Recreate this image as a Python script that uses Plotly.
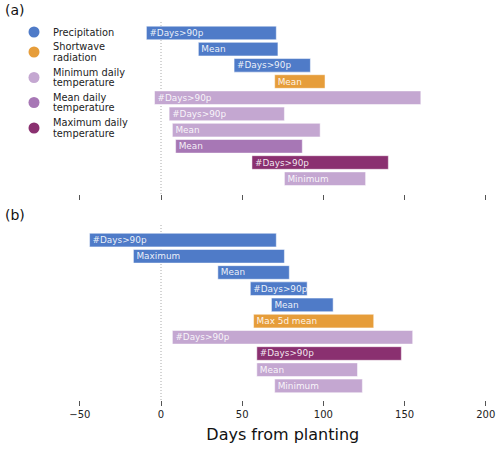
import plotly.graph_objects as go

# ---- data ----
var_keys = ["pr", "rsds", "tmin", "tmean", "tmax"]
var_lines = [["Precipitation"], ["Shortwave", "radiation"],
             ["Minimum daily", "temperature"], ["Mean daily", "temperature"],
             ["Maximum daily", "temperature"]]
var_colors = {"pr": "#4F7BC8", "rsds": "#E69D3A", "tmin": "#C4A7D1",
              "tmean": "#A777B5", "tmax": "#8A3070"}

a_labels = ["#Days>90p", "Mean", "#Days>90p", "Mean", "#Days>90p",
            "#Days>90p", "Mean", "Mean", "#Days>90p", "Minimum"]
a_start = [-9, 23, 45, 70, -4, 5, 7, 9, 56, 76]
a_end = [71, 72, 92, 101, 160, 76, 98, 87, 140, 126]
a_var = ["pr", "pr", "pr", "rsds", "tmin", "tmin", "tmin", "tmean", "tmax", "tmin"]

b_labels = ["#Days>90p", "Maximum", "Mean", "#Days>90p", "Mean",
            "Max 5d mean", "#Days>90p", "#Days>90p", "Mean", "Minimum"]
b_start = [-44, -17, 35, 55, 68, 57, 7, 59, 59, 70]
b_end = [71, 76, 79, 90, 106, 131, 155, 148, 121, 124]
b_var = ["pr", "pr", "pr", "pr", "pr", "rsds", "tmin", "tmax", "tmin", "tmin"]

x_ticks = [-50, 0, 50, 100, 150, 200]

# ---- layout constants ----
W, H = 500, 450
FONT = "DejaVu Sans"
LEG_CIRCLE_X = 34
LEG_TEXT_X = 51
LEG_ENTRY_Y = [32, 52, 77.5, 102.5, 128]
LEG_LINE_GAP = 10.8

fig = go.Figure()

def add_panel(labels, start, end, var, xaxis, yaxis):
    fig.add_trace(go.Bar(
        orientation="h",
        y=list(range(len(labels))),
        x=[e - s for s, e in zip(start, end)],
        base=start,
        text=labels,
        textposition="inside",
        insidetextanchor="start",
        textangle=0,
        constraintext="none",
        textfont=dict(family=FONT, size=8.9, color="rgba(255,255,255,0.9)"),
        marker=dict(color=[var_colors[v] for v in var],
                    line=dict(color="rgba(255,255,255,0.5)", width=1)),
        width=0.84,
        showlegend=False,
        hoverinfo="skip",
        xaxis=xaxis, yaxis=yaxis,
    ))

add_panel(a_labels, a_start, a_end, a_var, "x", "y")
add_panel(b_labels, b_start, b_end, b_var, "x2", "y2")

# legend circles drawn on a pixel-overlay axis
fig.add_trace(go.Scatter(
    x=[LEG_CIRCLE_X] * len(var_keys), y=LEG_ENTRY_Y, mode="markers",
    marker=dict(color=[var_colors[k] for k in var_keys], size=11, symbol="circle",
                line=dict(width=0)),
    showlegend=False, hoverinfo="skip", xaxis="x3", yaxis="y3", cliponaxis=False,
))

def px_x(p):
    return p / W

def px_y(p):
    return 1 - p / H

for lines, yc in zip(var_lines, LEG_ENTRY_Y):
    n = len(lines)
    for i, line in enumerate(lines):
        yy = yc + (i - (n - 1) / 2) * LEG_LINE_GAP
        fig.add_annotation(text=line, x=px_x(LEG_TEXT_X), y=px_y(yy),
                           xref="paper", yref="paper", xanchor="left",
                           yanchor="middle", showarrow=False,
                           font=dict(family=FONT, size=9.8, color="#222222"))

xdom = [px_x(78.2), px_x(487.4)]
xr = [-51, 201]

axis_common = dict(range=xr, domain=xdom, tickvals=x_ticks, ticks="outside",
                   ticklen=5, tickwidth=1, tickcolor="#555555", showgrid=False,
                   zeroline=False, showline=False, automargin=False,
                   tickfont=dict(family=FONT, size=10, color="#222222"))

fig.update_layout(
    template="none",
    width=W, height=H,
    margin=dict(l=0, r=0, t=0, b=0, pad=0, autoexpand=False),
    paper_bgcolor="white", plot_bgcolor="rgba(0,0,0,0)",
    barmode="overlay",
    showlegend=False,
    xaxis=dict(**axis_common, anchor="y", showticklabels=False),
    yaxis=dict(domain=[px_y(194), px_y(20)], range=[9.945, -0.80],
               visible=False, anchor="x"),
    xaxis2=dict(**axis_common, anchor="y2",
                title=dict(text="Days from planting",
                           font=dict(family=FONT, size=16, color="#111111"),
                           standoff=9)),
    yaxis2=dict(domain=[px_y(400), px_y(225)], range=[9.87, -0.93],
                visible=False, anchor="x2"),
    xaxis3=dict(domain=[0, 1], range=[0, W], visible=False, anchor="y3",
                automargin=False, fixedrange=True),
    yaxis3=dict(domain=[0, 1], range=[H, 0], visible=False, anchor="x3",
                automargin=False, fixedrange=True),
    font=dict(family=FONT),
)

for xa, ya in (("x", "y"), ("x2", "y2")):
    fig.add_shape(type="line", xref=xa, yref=ya + " domain", x0=0, x1=0, y0=0, y1=1,
                  line=dict(color="#AAAAAA", width=1, dash="1px,2px"), layer="below")

fig.add_annotation(text="(a)", x=px_x(3), y=px_y(10), xref="paper", yref="paper",
                   xanchor="left", yanchor="middle", showarrow=False,
                   font=dict(family=FONT, size=14, color="#111111"))
fig.add_annotation(text="(b)", x=px_x(3), y=px_y(215), xref="paper", yref="paper",
                   xanchor="left", yanchor="middle", showarrow=False,
                   font=dict(family=FONT, size=14, color="#111111"))

fig.write_html("out.html")
